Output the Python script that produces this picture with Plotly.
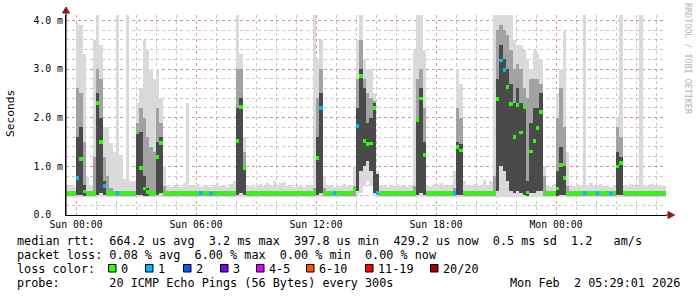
import pandas as pd
import plotly.graph_objects as go

# ---------------- data (10-minute steps, values in ms) ----------------
START = "2026-01-31 23:30"
END = "2026-02-02 05:30"
STEP_MIN = 10

smoke_lo = [
    .36, .36, .36, .36, .36, .36, .36, .36, .36, .36, .36, .36,
    .36, .36, .36, .36, .36, .36, .36, .36, .36, .36, .36, .36,
    .36, .36, .36, .36, .36, .36, .36, .36, .36, .36, .36, .36,
    .36, .36, .36, .36, .36, .36, .36, .36, .36, .36, .36, .36,
    .36, .36, .36, .36, .36, .36, .36, .36, .36, .36, .36, .36,
    .36, .36, .36, .36, .36, .36, .36, .36, .36, .36, .36, .36,
    .36, .36, .36, .36, .36, .36, .36, .36, .36, .36, .36, .36,
    .36, .36, .36, .40, .45, .60, .70, .60, .40, .36, .36, .36,
    .36, .36, .36, .36, .36, .36, .36, .36, .36, .36, .36, .36,
    .36, .36, .36, .36, .36, .36, .36, .36, .36, .36, .36, .36,
    .36, .36, .36, .36, .36, .36, .36, .36, .36, .36, .36, .36,
    .36, .36, .36, .36, .36, .36, .36, .36, .36, .36, .36, .36,
    .36, .36, .36, .36, .36, .36, .36, .36, .36, .36, .36, .36,
    .36, .36, .36, .36, .36, .36, .36, .36, .36, .36, .36, .36,
    .36, .36, .36, .36, .36, .36, .36, .36, .36, .36, .36, .36,
]

smoke_core_lo = [
    .40, .40, .40, .42, .42, .40, .40, .40, .40, .42, .45, .42,
    .40, .40, .40, .40, .40, .40, .40, .40, .40, .42, .42, .40,
    .40, .40, .40, .42, .45, .40, .40, .40, .40, .40, .40, .40,
    .40, .40, .40, .40, .40, .40, .40, .40, .40, .40, .40, .40,
    .40, .40, .40, .42, .45, .42, .40, .40, .40, .40, .40, .40,
    .40, .40, .40, .40, .40, .40, .40, .40, .40, .40, .40, .40,
    .40, .40, .40, .42, .45, .40, .40, .40, .40, .40, .40, .40,
    .40, .40, .40, .50, .90, 1.0, 1.1, .90, .45, .42, .40, .40,
    .40, .40, .40, .40, .40, .40, .40, .40, .40, .42, .45, .42,
    .40, .40, .40, .40, .40, .40, .40, .40, .40, .42, .42, .40,
    .40, .40, .40, .40, .40, .40, .40, .40, .40, .50, 1.0, .90,
    .70, .50, .45, .50, .45, .42, .40, .45, .45, .50, .50, .40,
    .40, .40, .40, .40, .42, .42, .40, .40, .40, .40, .40, .40,
    .40, .40, .40, .40, .40, .40, .40, .40, .40, .42, .42, .40,
    .40, .40, .40, .40, .40, .40, .40, .40, .40, .40, .40, .40,
]

smoke_core_hi = [
    .40, .40, .40, 1.6, 1.8, .62, .40, .40, .40, 2.5, 2.0, .70,
    .40, .40, .40, .40, .40, .40, .40, .40, .40, 1.7, 1.7, .80,
    .55, .40, .40, 1.5, 1.6, .40, .40, .40, .40, .40, .40, .40,
    .40, .40, .40, .40, .40, .40, .40, .40, .40, .40, .40, .40,
    .40, .40, .40, 2.2, 2.4, 1.0, .40, .40, .40, .40, .40, .40,
    .40, .40, .40, .40, .40, .40, .40, .40, .40, .40, .40, .40,
    .40, .40, .40, 1.6, 2.5, .40, .40, .40, .40, .40, .40, .40,
    .40, .40, .40, 2.2, 3.0, 2.6, 1.9, 2.0, 2.3, .84, .40, .40,
    .40, .40, .40, .40, .40, .40, .40, .40, .40, 2.0, 2.6, 1.5,
    .40, .40, .40, .40, .40, .40, .40, .40, .40, 1.5, 1.45, .40,
    .40, .40, .40, .40, .40, .40, .40, .40, .40, 2.8, 3.5, 3.2,
    3.0, 2.7, 2.3, 2.6, 2.3, 2.2, .70, 1.9, 2.2, 2.2, 2.5, .40,
    .40, .40, .40, .90, 1.4, 1.0, .40, .40, .40, .40, .40, .40,
    .40, .40, .40, .40, .40, .40, .40, .40, .40, 1.3, 1.2, .40,
    .40, .40, .40, .40, .40, .40, .40, .40, .40, .40, .40, .40,
]

smoke_mid_hi = [
    .50, .50, .50, 2.6, 2.5, 1.5, .50, .50, 1.2, 3.0, 2.8, 1.2,
    .80, .55, .50, .50, .50, .50, .50, .50, .50, 1.9, 2.2, 2.0,
    1.6, 1.4, 1.3, 2.2, 1.9, .60, .50, .50, .50, .50, .50, .50,
    .50, .50, .50, .50, .50, .50, .50, .50, .50, .50, .50, .50,
    .50, .50, .50, 3.0, 3.0, 1.3, .50, .50, .50, .50, .50, .50,
    .50, .50, .50, .50, .50, .50, .50, .50, .50, .50, .50, .50,
    .50, .50, .55, 2.4, 3.0, .55, .50, .50, .50, .50, .50, .50,
    .50, .50, .60, 2.8, 3.6, 2.8, 2.5, 2.4, 2.35, .70, .50, .50,
    .50, .50, .50, .50, .50, .50, .50, .50, .60, 2.8, 3.0, 2.2,
    .50, .50, .50, .50, .50, .50, .50, .50, .55, 2.2, 2.0, .50,
    .50, .50, .50, .50, .50, .50, .50, .50, .80, 3.8, 3.9, 3.8,
    3.7, 3.4, 3.0, 3.1, 3.0, 2.6, 2.4, 2.8, 2.8, 2.8, 2.7, .80,
    .50, .50, .50, 2.0, 2.6, 1.8, .60, .50, .50, .50, .50, .50,
    .50, .50, .50, .50, .50, .50, .50, .50, .50, 1.8, 1.6, .50,
    .50, .50, .50, .50, .50, .50, .50, .50, .50, .50, .50, .50,
]

smoke_hi = [
    .60, .62, .58, 3.95, 3.9, 3.3, .78, .62, 3.6, 4.15, 3.5, 1.8,
    1.8, 1.48, 1.3, 4.15, 1.23, .75, 4.15, .70, .70, 2.3, 2.6, 3.6,
    3.4, 3.0, 2.8, 3.0, 2.4, 1.0, .62, .58, .60, .64, .58, .66,
    2.3, .62, .60, .64, .58, .62, .60, .58, .62, .66, .60, .62,
    .58, .64, .70, 4.15, 3.3, 1.6, .62, .60, .58, .62, .64, .60,
    .66, .62, .70, .62, .66, .68, .60, .62, .58, .60, .62, .58,
    .60, .62, 4.15, 3.2, 3.6, .80, .62, .60, .58, .62, .60, .64,
    .60, .62, 1.0, 3.6, 4.15, 3.2, 3.0, 3.0, 2.5, .90, .62, .60,
    .58, .62, .60, .64, .60, .62, .58, .62, 3.4, 4.15, 4.15, 3.4,
    .62, .60, .64, .62, .66, .60, .62, .60, .90, 3.0, 2.7, .70,
    .62, .60, .64, .62, .60, .72, .62, .70, 4.15, 4.15, 4.15, 4.15,
    4.15, 4.15, 3.6, 3.5, 3.5, 3.4, 3.2, 3.0, 3.4, 3.3, 3.2, 1.0,
    .62, .60, .64, 2.5, 3.0, 3.8, 1.3, .62, .60, .64, .62, 4.15,
    .62, .66, .60, .62, .64, .60, .62, .58, .62, 2.0, 4.15, .62,
    .60, .64, .62, .60, 4.15, .62, .60, .64, .62, .60, .62, .60,
]

median_rtt = [
    .45, .44, .45, .76, 1.15, .48, .45, .44, .45, 2.3, 1.5, .60,
    .45, .45, .44, .45, .45, .46, .45, .45, .44, 1.69, .97, .55,
    .47, .46, .45, 1.19, 1.48, .45, .45, .44, .45, .46, .45, .45,
    .45, .44, .45, .45, .45, .44, .45, .44, .45, .46, .45, .44,
    .45, .45, .46, 1.52, 2.22, .97, .44, .45, .45, .46, .45, .44,
    .45, .45, .46, .45, .45, .44, .45, .45, .46, .45, .45, .44,
    .45, .45, .45, 1.17, 2.2, .45, .44, .45, .45, .46, .45, .45,
    .44, .45, .50, 1.83, 2.86, 1.52, 1.46, 1.47, 2.2, .45, .44, .45,
    .45, .46, .45, .45, .44, .45, .45, .46, .45, 1.95, 2.4, 1.23,
    .44, .45, .45, .46, .45, .44, .45, .45, .45, 1.4, 1.32, .44,
    .45, .45, .46, .45, .44, .45, .45, .46, .45, 2.38, 3.17, 2.98,
    2.63, 2.28, 1.6, 2.26, 1.69, 2.22, .46, 1.3, 1.52, 1.79, 2.12, .46,
    .45, .44, .45, .55, 1.03, .76, .45, .44, .45, .45, .46, .45,
    .45, .44, .45, .45, .46, .45, .45, .44, .45, 1.0, 1.07, .45,
    .44, .45, .45, .46, .45, .45, .44, .45, .45, .46, .45, .45,
]

loss_count = [
    0, 0, 0, 1, 0, 0, 0, 0, 0, 0, 0, 1,
    0, 0, 0, 1, 0, 0, 0, 0, 0, 0, 0, 0,
    0, 0, 0, 0, 0, 0, 0, 0, 0, 0, 0, 0,
    0, 0, 0, 0, 1, 0, 0, 1, 0, 0, 0, 0,
    0, 0, 0, 0, 0, 0, 0, 0, 0, 0, 0, 0,
    0, 0, 0, 0, 0, 0, 0, 0, 0, 0, 0, 0,
    0, 0, 0, 0, 1, 0, 0, 0, 1, 0, 0, 0,
    0, 0, 0, 1, 0, 0, 0, 0, 0, 1, 0, 0,
    0, 0, 0, 0, 0, 0, 0, 0, 0, 0, 0, 0,
    0, 0, 0, 0, 0, 0, 0, 0, 1, 0, 0, 0,
    0, 0, 0, 0, 0, 0, 0, 0, 0, 0, 1, 1,
    0, 0, 0, 0, 0, 0, 0, 0, 0, 0, 0, 0,
    0, 0, 0, 0, 0, 0, 0, 0, 0, 0, 0, 1,
    0, 0, 0, 1, 0, 0, 0, 1, 0, 0, 0, 0,
    0, 0, 0, 0, 0, 0, 0, 0, 0, 0, 0, 0,
]

loss_labels = ["0", "1", "2", "3", "4-5", "6-10", "11-19", "20/20"]
loss_colors = ["#26ff00", "#00b8ff", "#0059ff", "#7e00ff", "#dd00ff",
               "#ff5500", "#ff0000", "#a10000"]

y_tick_vals = [0, 1, 2, 3, 4]
y_tick_text = ["0.0\u00a0\u00a0", "1.0 m", "2.0 m", "3.0 m", "4.0 m"]

legend_lines = [
    "median rtt:  664.2 us avg  3.2 ms max  397.8 us min  429.2 us now  0.5 ms sd  1.2   am/s",
    "packet loss: 0.08 % avg  6.00 % max  0.00 % min  0.00 % now",
    "loss color:",
    "probe:       20 ICMP Echo Pings (56 Bytes) every 300s",
]
timestamp_text = "Mon Feb  2 05:29:01 2026"

# ---------------- figure ----------------
W, H = 697, 297
L, R, T, B = 66, 31, 15, 82
PW, PH = W - L - R, H - T - B
MONO = "DejaVu Sans Mono"


def px(x):
    return (x - L) / PW


def py(y):
    return (H - B - y) / PH


step = pd.Timedelta(minutes=STEP_MIN)
n = len(median_rtt)
centers = [pd.Timestamp(START) + step * i + step / 2 for i in range(n)]
width_ms = STEP_MIN * 60 * 1000


def layer(bottom, top, color):
    return go.Bar(
        x=centers, base=bottom, y=[t - b for b, t in zip(bottom, top)],
        width=width_ms, marker=dict(color=color, line=dict(width=0)),
        hoverinfo="skip", showlegend=False,
    )


fig = go.Figure()
fig.add_trace(layer(smoke_lo, smoke_hi, "#dadada"))
fig.add_trace(layer(smoke_core_lo, smoke_mid_hi, "#a2a2a2"))
fig.add_trace(layer(smoke_core_lo, smoke_core_hi, "#4a4a4a"))

med_h = 0.07
color_idx = {0: 0, 1: 1, 2: 2, 3: 3, 4: 4, 5: 4}
fig.add_trace(go.Bar(
    x=centers, base=[m - med_h / 2 for m in median_rtt], y=[med_h] * n,
    width=width_ms,
    marker=dict(color=[loss_colors[color_idx.get(c, 5)] for c in loss_count],
                line=dict(width=0)),
    hoverinfo="skip", showlegend=False,
))

major_grid = "rgba(230,120,120,0.75)"
minor_grid = "rgba(160,160,160,0.6)"

fig.update_layout(
    width=W, height=H, margin=dict(l=L, r=R, t=T, b=B, pad=0),
    paper_bgcolor="white", plot_bgcolor="white",
    barmode="overlay", bargap=0, showlegend=False,
    font=dict(family=MONO, color="black"),
    xaxis=dict(
        type="date", range=[START, END],
        tick0="2026-02-01 00:00", dtick=6 * 3600 * 1000,
        tickformat="%a %H:%M", tickfont=dict(family=MONO, size=9.8),
        showgrid=True, gridcolor=major_grid, griddash="dot", gridwidth=1,
        minor=dict(dtick=3600 * 1000, showgrid=True, gridcolor=minor_grid,
                   griddash="dot", gridwidth=1),
        showline=True, linecolor="black", linewidth=1, ticks="",
        zeroline=False, fixedrange=True,
    ),
    yaxis=dict(
        range=[0, 4.11], tickvals=y_tick_vals, ticktext=y_tick_text,
        tickfont=dict(family=MONO, size=9.8),
        showgrid=True, gridcolor=major_grid, griddash="dot", gridwidth=1,
        minor=dict(dtick=0.2, showgrid=True, gridcolor=minor_grid,
                   griddash="dot", gridwidth=1),
        showline=True, linecolor="black", linewidth=1, ticks="",
        zeroline=False, fixedrange=True,
    ),
)

ann = []
for txt, yy in zip(legend_lines, [241, 255, 269, 283]):
    ann.append(dict(
        text=txt.replace(" ", "\u00a0"), x=px(16), y=py(yy),
        xref="paper", yref="paper", xanchor="left", yanchor="middle",
        showarrow=False, borderpad=0, font=dict(family=MONO, size=11.8, color="black"),
    ))
ann.append(dict(
    text=timestamp_text.replace(" ", "\u00a0"), x=px(681), y=py(283),
    xref="paper", yref="paper", xanchor="right", yanchor="middle",
    showarrow=False, borderpad=0, font=dict(family=MONO, size=11.8, color="black"),
))

label_x = [120, 157, 195, 232, 268, 318, 377, 442]
shapes = []
for lab, col, lx in zip(loss_labels, loss_colors, label_x):
    shapes.append(dict(
        type="rect", xref="paper", yref="paper",
        x0=px(lx - 11.5), x1=px(lx - 4), y0=py(272), y1=py(264.5),
        fillcolor=col, line=dict(color="black", width=1),
    ))
    ann.append(dict(
        text=lab, x=px(lx), y=py(269), xref="paper", yref="paper",
        xanchor="left", yanchor="middle", showarrow=False, borderpad=0,
        font=dict(family=MONO, size=11.8, color="black"),
    ))

ann.append(dict(
    text="Seconds", x=px(10), y=py(114), xref="paper", yref="paper",
    xanchor="center", yanchor="middle", textangle=-90, showarrow=False,
    borderpad=0, font=dict(family=MONO, size=11.2, color="black"),
))
ann.append(dict(
    text="RRDTOOL / TOBI OETIKER".replace(" ", "\u00a0"), x=px(688), y=py(59),
    xref="paper", yref="paper", xanchor="center", yanchor="middle",
    textangle=90, showarrow=False, borderpad=0,
    font=dict(family=MONO, size=8.4, color="#b4b4b4"),
))

arrow_col = "#8b1a1a"
shapes.append(dict(type="line", xref="paper", yref="paper",
                   x0=px(666), x1=px(669), y0=py(215), y1=py(215),
                   line=dict(color="black", width=1)))
shapes.append(dict(type="line", xref="paper", yref="paper",
                   x0=px(66), x1=px(66), y0=py(215), y1=py(12),
                   line=dict(color="black", width=1)))
shapes.append(dict(
    type="path", xref="paper", yref="paper",
    path=f"M {px(62.5)} {py(13)} L {px(69.5)} {py(13)} L {px(66)} {py(7)} Z",
    fillcolor=arrow_col, line=dict(color=arrow_col, width=1),
))
shapes.append(dict(
    type="path", xref="paper", yref="paper",
    path=f"M {px(668)} {py(211.5)} L {px(668)} {py(218.5)} L {px(674.5)} {py(215)} Z",
    fillcolor=arrow_col, line=dict(color=arrow_col, width=1),
))

fig.update_layout(annotations=ann, shapes=shapes)
fig.write_html("out.html")
